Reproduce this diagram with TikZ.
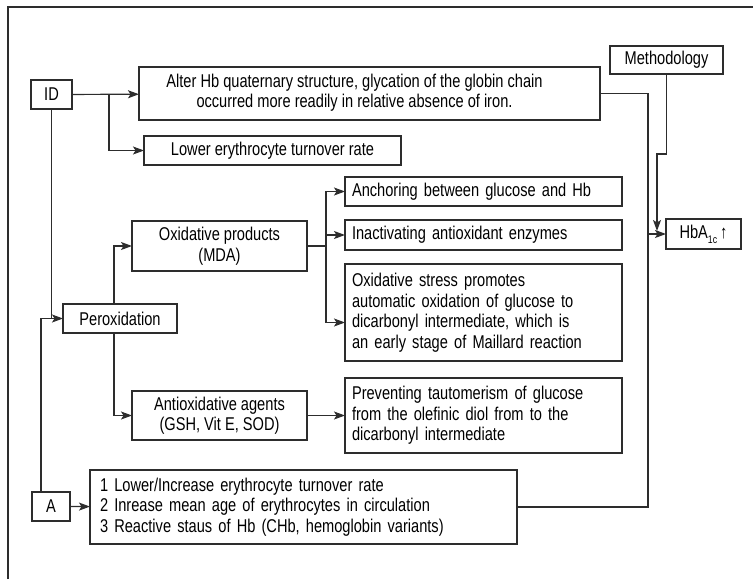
\documentclass[tikz,border=0pt]{standalone}
\usepackage{fontspec}
\setmainfont{Liberation Sans}[FakeStretch=0.79]
\usepackage{xcolor}
\definecolor{hb_line}{RGB}{45, 45, 45}
\usepackage{tikz}
\usetikzlibrary{arrows.meta, calc}

\begin{document}
\begin{tikzpicture}[x=1pt, y=-1pt,
        box/.style={draw=hb_line, line width=1.2pt, inner sep=0pt, outer sep=0pt,
                    font=\fontsize{18.5}{20.5}\selectfont, align=center},
        txt/.style={box, align=left, inner xsep=7pt},
        arr/.style={-{Stealth[length=11pt, width=8pt, inset=2.5pt]}, hb_line, line width=1.2pt},
        lin/.style={hb_line, line width=1.2pt},
      ]
        \useasboundingbox (0,0) rectangle (753,579);
        \draw[lin] (8,579) -- (8,7) -- (753,7);

        \node[box, minimum width=41pt, minimum height=29pt] (id) at (51.5, 94.5) {ID};
        \node[box, minimum width=461pt, minimum height=53pt] (alter) at (369.5, 93.5)
          {\begin{tabular}{@{}c@{}}Alter Hb quaternary structure, glycation of the globin chain\\occurred more readily in relative absence of iron.\end{tabular}\hspace*{30pt}};
        \node[box, minimum width=257pt, minimum height=29pt] (lower) at (272.5, 150.5) {Lower erythrocyte turnover rate};
        \node[box, minimum width=113pt, minimum height=28pt] (meth) at (666.5, 60) {Methodology};
        \node[box, minimum width=75pt, minimum height=30pt] (hba) at (703.5, 234)
          {HbA\raisebox{-5pt}{\fontsize{11}{11}\selectfont 1c}\,↑};

        \node[txt, text width=263pt, minimum height=29pt] (anchor) at (483.5, 191.5) {Anchoring between glucose and Hb};
        \node[txt, text width=263pt, minimum height=30pt] (inact) at (483.5, 235) {Inactivating antioxidant enzymes};
        \node[txt, text width=263pt, minimum height=97pt] (ostress) at (483.5, 312.5)
          {Oxidative stress promotes\\automatic oxidation of glucose to\\dicarbonyl intermediate, which is\\an early stage of Maillard reaction};
        \node[txt, text width=263pt, minimum height=75pt] (prevent) at (483.5, 415.5)
          {Preventing tautomerism of glucose\\from the olefinic diol from to the\\dicarbonyl intermediate};

        \node[box, minimum width=175pt, minimum height=50pt] (oxprod) at (219.5, 246) {Oxidative products\\(MDA)};
        \node[box, minimum width=114pt, minimum height=29pt] (perox) at (120, 318.5) {Peroxidation};
        \node[box, minimum width=175pt, minimum height=49pt] (antiox) at (219.5, 415.5) {Antioxidative agents\\(GSH, Vit E, SOD)};

        \node[box, minimum width=38pt, minimum height=29pt] (abox) at (51, 506.5) {A};
        \node[txt, inner xsep=10pt, text width=407pt, minimum height=74pt] (list) at (303.5, 507)
          {1 Lower/Increase erythrocyte turnover rate\\2 Inrease mean age of erythrocytes in circulation\\3 Reactive staus of Hb (CHb, hemoglobin variants)};

        \coordinate (idj) at (109, 94);
        \coordinate (oxj) at (326, 246);
        \coordinate (hbj) at (648, 234);
        \coordinate (methend) at (657, 231);

        \draw[arr] (id) -- (alter);
        \draw[arr] (idj) |- (lower.west);
        \draw[lin] (id.south) -- (id.south |- perox.west);
        \draw[arr] ([xshift=-10pt]abox.north) |- (perox.west);
        \draw[arr] (abox) -- (list);

        \draw[arr] ([xshift=-6pt]perox.north) |- (oxprod.west);
        \draw[arr] ([xshift=-6pt]perox.south) |- (antiox.west);
        \draw[lin] (oxprod.east) -- (oxj);
        \foreach \t in {anchor, inact}
          \draw[arr] (oxj) |- (\t.west);
        \draw[arr] (oxj) |- ([yshift=-10pt]ostress.west);
        \draw[arr] (antiox) -- (prevent);

        \draw[lin] (alter.east) -| (hbj);
        \draw[lin] (list.east) -| (hbj);
        \draw[arr] (hbj) -- (hba.west);
        \draw[arr] (meth.south) -- ++(0,80) -| (methend);
      \end{tikzpicture}
\end{document}
